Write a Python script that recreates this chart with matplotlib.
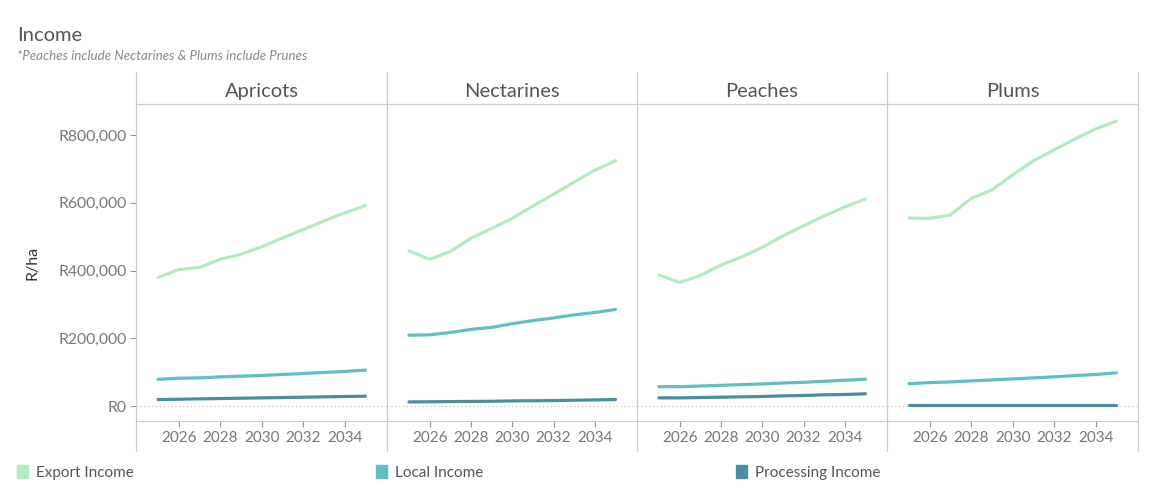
import matplotlib
matplotlib.use("Agg")
import matplotlib.pyplot as plt
from matplotlib.lines import Line2D
from matplotlib.patches import Rectangle
from matplotlib.ticker import FuncFormatter

plt.rcParams['font.family'] = ['Lato', 'DejaVu Sans']

years = [2025, 2026, 2027, 2028, 2029, 2030, 2031, 2032, 2033, 2034, 2035]
fruits = ["Apricots", "Nectarines", "Peaches", "Plums"]
series_names = ["Export Income", "Local Income", "Processing Income"]
series_colors = ["#b0ecc0", "#5fbfc5", "#4a8ea1"]

apricots_export = [379000, 403000, 409000, 433000, 448000, 470000, 496000, 521000, 546000, 570000, 592000]
apricots_local = [79000, 82000, 83000, 86000, 88000, 90000, 93000, 96000, 99000, 102000, 106000]
apricots_processing = [19000, 20000, 21000, 22000, 23000, 24000, 25000, 26000, 27000, 28000, 29000]

nectarines_export = [458000, 433000, 456000, 495000, 524000, 554000, 590000, 625000, 661000, 696000, 724000]
nectarines_local = [209000, 210000, 217000, 226000, 232000, 243000, 252000, 260000, 269000, 276000, 285000]
nectarines_processing = [12000, 12500, 13000, 13500, 14000, 15000, 15500, 16000, 17000, 18000, 19000]

peaches_export = [387000, 365000, 385000, 416000, 440000, 468000, 502000, 532000, 561000, 588000, 611000]
peaches_local = [57000, 57000, 59000, 61000, 63000, 65000, 68000, 70000, 73000, 76000, 79000]
peaches_processing = [24000, 24000, 25000, 26000, 27000, 28000, 30000, 31000, 33000, 34000, 36000]

plums_export = [555000, 554000, 564000, 613000, 638000, 682000, 724000, 756000, 788000, 818000, 841000]
plums_local = [66000, 69000, 71000, 74000, 77000, 80000, 83000, 86000, 90000, 93000, 98000]
plums_processing = [2000, 2000, 2000, 2000, 2000, 2000, 2000, 2000, 2000, 2000, 2000]

data = {
    "Apricots": [apricots_export, apricots_local, apricots_processing],
    "Nectarines": [nectarines_export, nectarines_local, nectarines_processing],
    "Peaches": [peaches_export, peaches_local, peaches_processing],
    "Plums": [plums_export, plums_local, plums_processing],
}

xtick_years = [2026, 2028, 2030, 2032, 2034]
ytick_vals = [0, 200000, 400000, 600000, 800000]

W, H = 1150, 500
fig = plt.figure(figsize=(W / 100, H / 100), dpi=100)

def fx(px):
    return px / W

def fy(py):
    return 1 - py / H

panel_edges = [136, 387, 637, 887, 1138]
top_px, bot_px = 104, 421
zero_px, y800_px = 406, 135
ppu = (zero_px - y800_px) / 800000
ylim = (-(bot_px - zero_px) / ppu, (zero_px - top_px) / ppu)

grid = "#cccccc"
tickc = "#777777"

for i, fruit in enumerate(fruits):
    l, r = panel_edges[i], panel_edges[i + 1]
    ax = fig.add_axes([fx(l), fy(bot_px), fx(r - l), (bot_px - top_px) / H])
    for vals, c in zip(data[fruit], series_colors):
        ax.plot(years, vals, color=c, lw=2.3, solid_capstyle='round')
    ax.axhline(0, color="#bbbbbb", lw=0.8, ls=(0, (1, 2.5)), zorder=0)
    ax.set_xlim(2023.94, 2036.04)
    ax.set_ylim(*ylim)
    for s in ax.spines.values():
        s.set_visible(False)
    ax.spines['bottom'].set_visible(True)
    ax.spines['bottom'].set_color(grid)
    ax.set_xticks(xtick_years)
    ax.set_xticklabels([str(y) for y in xtick_years])
    ax.tick_params(axis='x', colors="#999999", labelcolor=tickc, labelsize=11, length=4, width=0.8, pad=3)
    ax.set_yticks(ytick_vals)
    if i == 0:
        ax.yaxis.set_major_formatter(FuncFormatter(lambda v, p: "R{:,.0f}".format(v)))
        ax.tick_params(axis='y', colors="#999999", labelcolor=tickc, labelsize=11.3, length=4, width=0.8, pad=3)
        ax.set_ylabel("R/ha", fontsize=11.5, color="#333333", labelpad=13)
    else:
        ax.tick_params(axis='y', length=0, labelleft=False)
    ax.patch.set_alpha(0)
    fig.text(fx((l + r) / 2), fy(91.5), fruit, ha='center', va='center', fontsize=14.5, color="#555555")

# panel separators and header line
for e in panel_edges:
    fig.add_artist(Line2D([fx(e), fx(e)], [fy(72), fy(451)], color=grid, lw=0.9))
fig.add_artist(Line2D([fx(136), fx(1138)], [fy(104), fy(104)], color=grid, lw=0.9))

fig.text(fx(17), fy(35), "Income", ha='left', va='center', fontsize=14.5, color="#555555")
fig.text(fx(17), fy(56.5), "*Peaches include Nectarines & Plums include Prunes", ha='left', va='center',
         fontsize=9.6, color="#888888", style='italic')

legend_x = [17, 376, 736]
for name, c, lx in zip(series_names, series_colors, legend_x):
    fig.add_artist(Rectangle((fx(lx), fy(478)), fx(11), 13 / H, color=c, transform=fig.transFigure))
    fig.text(fx(lx + 19), fy(473), name, ha='left', va='center', fontsize=11, color="#555555")

fig.savefig("out.png", dpi=100)
